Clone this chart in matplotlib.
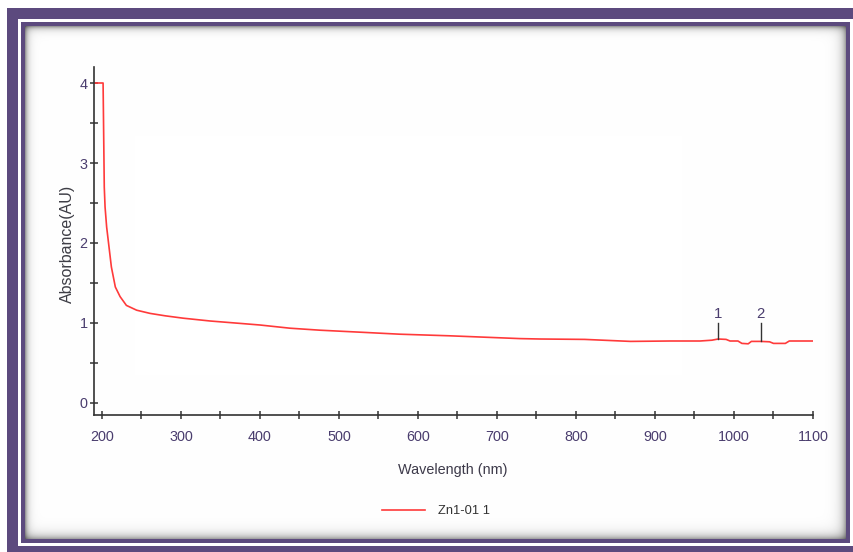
import numpy as np
import matplotlib
matplotlib.use("Agg")
import matplotlib.pyplot as plt
from matplotlib import font_manager as fm
from matplotlib.ticker import MultipleLocator

# ---- data ----
wavelength = [190, 201.5, 203, 204, 206, 209, 212, 217, 223, 231, 244, 261, 280, 303,
              337, 375, 400, 438, 476, 527, 577, 640, 691, 729, 754, 811, 869, 919,
              957, 972, 980, 990, 995, 1005, 1010, 1018, 1022, 1034, 1045, 1050, 1065,
              1070, 1100]
absorbance = [4.0, 4.0, 2.7, 2.45, 2.2, 1.95, 1.70, 1.45, 1.33, 1.22, 1.16, 1.12, 1.09, 1.06,
              1.025, 0.995, 0.975, 0.935, 0.91, 0.885, 0.86, 0.84, 0.82, 0.805, 0.80, 0.795,
              0.77, 0.775, 0.775, 0.785, 0.80, 0.795, 0.775, 0.775, 0.745, 0.74, 0.77, 0.77,
              0.765, 0.745, 0.745, 0.775, 0.775]
peak_wavelengths = [980, 1034]
peak_labels = ["1", "2"]
series_name = "Zn1-01 1"
x_ticks = [200, 300, 400, 500, 600, 700, 800, 900, 1000, 1100]
y_ticks = [0, 1, 2, 3, 4]

names = {f.name for f in fm.fontManager.ttflist}
if "Liberation Sans Narrow" in names:
    narrow, nscale = "Liberation Sans Narrow", 1.0
else:
    narrow, nscale = "Liberation Sans", 0.9
regular = "Liberation Sans"

W, H = 854, 552
fig = plt.figure(figsize=(W / 100, H / 100), dpi=100, facecolor="white")

# ---- decorative frame background ----
purple = np.array([0x5c, 0x4a, 0x7e]) / 255.0
bg = np.ones((H, W, 3))
yy, xx = np.mgrid[0:H, 0:W]
def fill(x0, y0, x1, y1, col):
    bg[y0:y1, x0:x1] = col
fill(7, 8, W, H, purple)
fill(18, 19, W, 546, np.ones(3))
fill(21, 22, 850, 543, purple)
ix0, iy0, ix1, iy1 = 25, 26, 846, 539
shade = np.ones((H, W))
shade *= 1 - 0.4 * np.exp(-(xx - ix0) / 3.0)
shade *= 1 - 0.4 * np.exp(-(yy - iy0) / 3.0)
shade *= 1 - 0.45 * np.exp(-(ix1 - xx) / 4.5)
shade *= 1 - 0.45 * np.exp(-(iy1 - yy) / 4.5)
region = (xx >= ix0) & (xx < ix1) & (yy >= iy0) & (yy < iy1)
for c in range(3):
    ch = bg[:, :, c]
    ch[region] = shade[region]
fig.figimage(bg, xo=0, yo=0, origin="upper", zorder=-10)

# ---- axes ----
ax = fig.add_axes([94 / W, 1 - 415 / H, (813 - 94) / W, (415 - 67) / H], zorder=5)
ax.patch.set_alpha(0)
ax.plot(wavelength, absorbance, color="#ff3a3a", lw=1.2, label=series_name)

ax.set_xlim(190, 1100)
ax.set_ylim(-0.15, 4.2)
for s in ["top", "right"]:
    ax.spines[s].set_visible(False)
for s in ["left", "bottom"]:
    ax.spines[s].set_color("#333333")
    ax.spines[s].set_linewidth(1.2)

ax.set_xticks(x_ticks)
ax.set_yticks(y_ticks)
ax.xaxis.set_minor_locator(MultipleLocator(50))
ax.yaxis.set_minor_locator(MultipleLocator(0.5))
ax.tick_params(which="both", direction="inout", color="#333333", width=1.1, length=6)
ax.tick_params(axis="x", which="major", pad=7.5)
ax.tick_params(axis="y", which="major", pad=1.5)
tick_color = "#4a3d6e"
for lab in ax.get_xticklabels() + ax.get_yticklabels():
    lab.set_fontfamily(narrow)
    lab.set_fontsize(11.5 * nscale)
    lab.set_color(tick_color)

ax.set_xlabel("Wavelength (nm)", fontfamily=narrow, fontsize=11.5 * nscale, color="#3d3a4a")
ax.xaxis.set_label_coords(0.499, -0.137)
ax.set_ylabel("Absorbance(AU)", fontfamily=regular, fontsize=11.5, color="#3d3d45")
ax.yaxis.set_label_coords(-0.026, 0.491)

# peak markers
for pw, pl in zip(peak_wavelengths, peak_labels):
    yv = np.interp(pw, wavelength, absorbance)
    ax.plot([pw, pw], [yv, 1.0], color="#333333", lw=1.0)
    ax.text(pw, 1.03, pl, ha="center", va="bottom", fontfamily=narrow,
            fontsize=12 * nscale, color=tick_color)

leg = fig.legend(loc="center", bbox_to_anchor=(436 / W, 1 - 511 / H), frameon=False,
                 handlelength=3.3, handletextpad=1.0,
                 prop={"family": narrow, "size": 11 * 0.84 if nscale < 1 else 11})
for t in leg.get_texts():
    t.set_color("#333333")

fig.savefig("out.png", dpi=100)
